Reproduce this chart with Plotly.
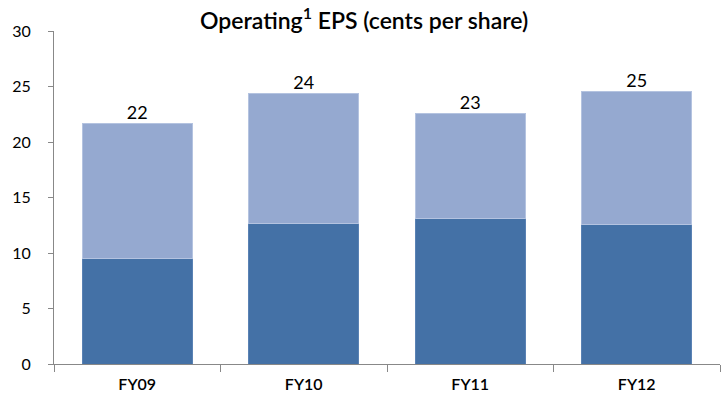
import plotly.graph_objects as go

categories = ["FY09", "FY10", "FY11", "FY12"]
lower_values = [9.5, 12.65, 13.1, 12.55]
upper_values = [12.2, 11.7, 9.5, 12.0]
total_labels = ["22", "24", "23", "25"]

totals = [a + b for a, b in zip(lower_values, upper_values)]
FONT = "Lato, sans-serif"

fig = go.Figure()
fig.add_trace(go.Bar(x=categories, y=lower_values, marker=dict(color="#4471A6", line=dict(color="#5A82B4", width=1)),
                     hoverinfo="y", showlegend=False))
fig.add_trace(go.Bar(x=categories, y=upper_values, marker=dict(color="#95A9D0", line=dict(color="#B4C3E0", width=1)),
                     hoverinfo="y", showlegend=False))
fig.add_trace(go.Scatter(x=categories, y=totals, mode="text", text=total_labels, textposition="top center",
                         textfont=dict(family=FONT, size=18, color="#000000"), showlegend=False, hoverinfo="skip"))

fig.update_layout(
    width=721, height=409,
    barmode="stack", bargap=0.34,
    margin=dict(l=54, r=1, t=31, b=45),
    paper_bgcolor="white", plot_bgcolor="white",
    title=dict(text="Operating<sup>1</sup> EPS (cents per share)", x=0.505, xanchor="center", y=0.95, yanchor="middle",
               font=dict(family=FONT, size=23, color="#000000", weight=600)),
    xaxis=dict(showline=True, linecolor="#888888", linewidth=1, ticks="outside", tickson="boundaries",
               ticklen=7, tickcolor="#888888", tickfont=dict(family=FONT, size=16, color="#000000", weight=600),
               ticklabelstandoff=6, showgrid=False),
    yaxis=dict(range=[0, 30], dtick=5, showline=True, linecolor="#888888", linewidth=1, ticks="outside",
               ticklen=5, tickcolor="#888888", tickfont=dict(family=FONT, size=16, color="#000000"),
               ticklabelstandoff=14, showgrid=False, zeroline=False),
)
fig.write_html("out.html", config={"displayModeBar": False},
               post_script="document.body.style.margin='0';document.body.style.overflow='hidden';")
